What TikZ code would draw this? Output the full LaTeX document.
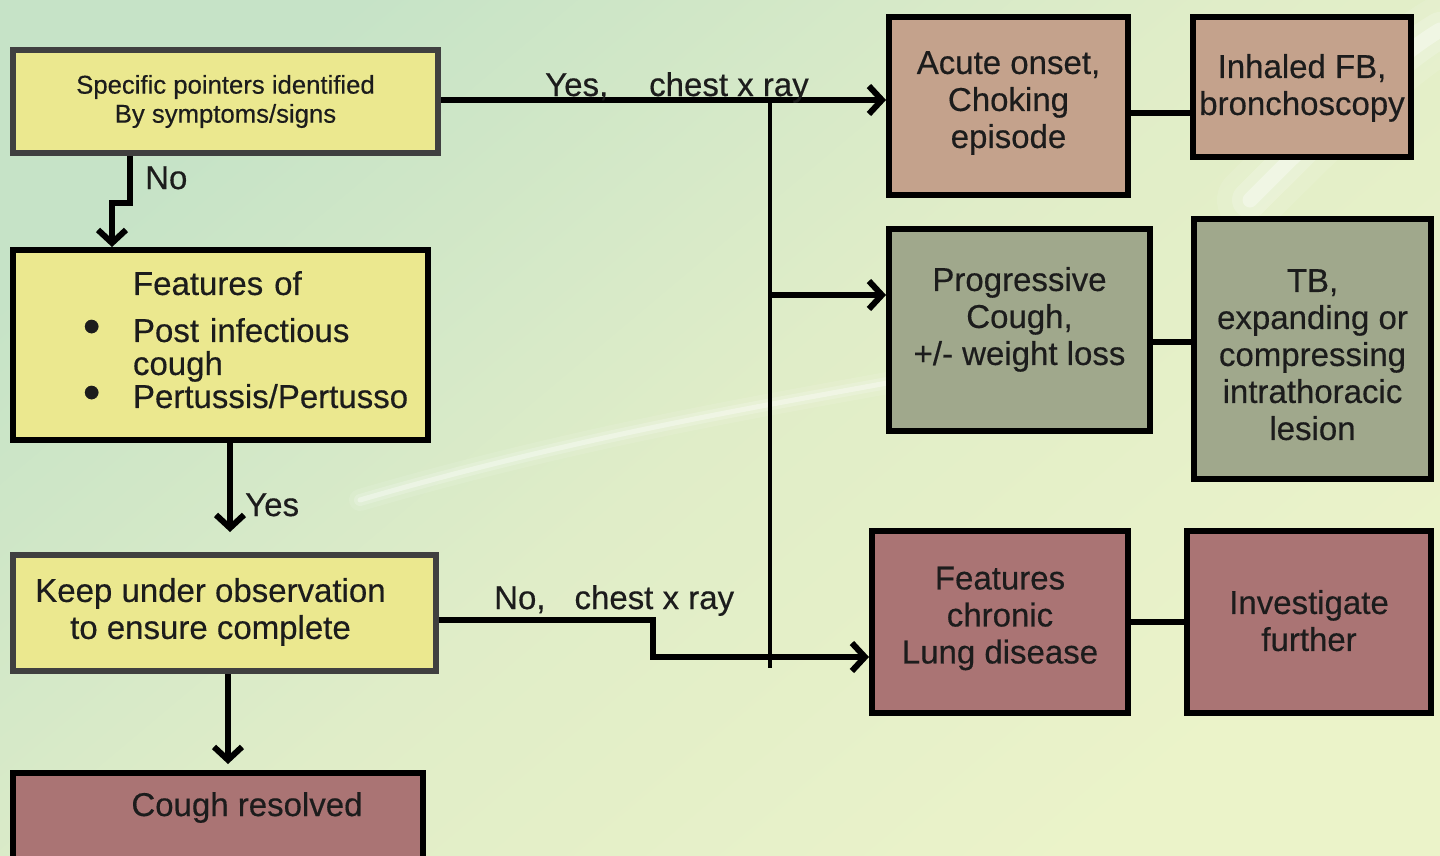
\documentclass[tikz,border=0pt]{standalone}
\usepackage{fontspec}
\usepackage{graphicx}
\setmainfont{Liberation Sans}[FakeBold=0.4]
\usetikzlibrary{arrows.meta,calc}
\definecolor{bgUL}{HTML}{C6E3C7}
\definecolor{bgMid}{HTML}{E0EDC8}
\definecolor{bgLR}{HTML}{EBF3C9}
\definecolor{yel}{HTML}{EBE88F}
\definecolor{tan}{HTML}{C4A28C}
\definecolor{sage}{HTML}{A0A88C}
\definecolor{mauve}{HTML}{AA7474}
\definecolor{greyb}{HTML}{404040}
\definecolor{txt}{HTML}{1C1C1C}
\newcommand{\mlines}[1]{\begin{tabular}{@{}c@{}}#1\end{tabular}}
\newcommand{\rlines}[2]{\raisebox{#1}[0pt][0pt]{\mlines{#2}}}
\newcommand{\bigbul}{\makebox[50pt][l]{\raisebox{-1pt}{\scalebox{1.5}{\textbullet}}}}
\begin{document}
\begin{tikzpicture}[x=1pt,y=-1pt,
  box/.style={rectangle, draw=black, line width=6pt, inner sep=0pt, align=center,
    text=txt, font=\fontsize{33}{37}\selectfont},
  lab/.style={inner sep=0pt, text=txt, font=\fontsize{33}{37}\selectfont},
  conn/.style={line width=5.5pt, draw=black},
  arr/.style={line width=6pt, draw=black, -{Straight Barb[length=13pt,width=28pt]}},
  trunk/.style={line width=4pt, draw=black}]
\useasboundingbox (0,0) rectangle (1440,855);
\clip (0,0) rectangle (1440,855);
% background
\shade[top color=bgUL, bottom color=bgLR, middle color=bgMid, shading angle=40] (0,0) rectangle (1440,855);
\foreach \o/\w in {0.10/22,0.18/12,0.35/5}{
  \draw[white, opacity=\o, line width=\w pt, line cap=round] (360,500) .. controls (600,430) and (800,400) .. (930,375);
  \draw[white, opacity=\o, line width=3*\w pt, line cap=round] (1250,200) .. controls (1330,120) and (1390,60) .. (1440,30);
}
% left column
\node[box, draw=greyb, line width=6.5pt, fill=yel, minimum width=425pt, minimum height=103pt,
  font=\fontsize{25.7}{29}\selectfont] (A) at (225.5,101.5) {Specific pointers identified\\By symptoms/signs};
\node[box, fill=yel, minimum width=415pt, minimum height=190pt, text width=395pt, align=left,
  font=\fontsize{33}{33}\selectfont] (B) at (220.5,345)
  {\hspace*{110pt}Features of\\[14pt]
   \hspace*{60pt}\bigbul Post infectious\\
   \hspace*{110pt}cough\\
   \hspace*{60pt}\bigbul Pertussis/Pertusso\\[-22pt]\mbox{}};
\node[box, draw=greyb, line width=6.5pt, fill=yel, minimum width=423pt, minimum height=116pt] (C) at (224.5,613)
  {\mlines{Keep under observation\\to ensure complete}\hspace*{28pt}};
\node[box, fill=mauve, minimum width=410pt, minimum height=94pt] (D) at (218,820)
  {\hspace*{58pt}\raisebox{4pt}[0pt][0pt]{Cough resolved}};
% right boxes
\node[box, fill=tan, minimum width=239pt, minimum height=178pt] (E) at (1008.5,106)
  {\rlines{-3.75pt}{Acute onset,\\Choking\\episode}};
\node[box, fill=tan, minimum width=218pt, minimum height=140pt] (F) at (1302,87)
  {\rlines{-8.25pt}{Inhaled FB,\\bronchoscopy}};
\node[box, fill=sage, minimum width=261pt, minimum height=202pt] (G) at (1019.5,330)
  {\rlines{3.25pt}{Progressive\\Cough,\\+/- weight loss}};
\node[box, fill=sage, minimum width=237pt, minimum height=260pt] (H) at (1312.5,349)
  {\rlines{-15.75pt}{TB,\\expanding or\\compressing\\intrathoracic\\lesion}};
\node[box, fill=mauve, minimum width=256pt, minimum height=182pt] (I) at (1000,622)
  {\rlines{-3.25pt}{Features\\chronic\\Lung disease}};
\node[box, fill=mauve, minimum width=244pt, minimum height=182pt] (J) at (1309,622)
  {\rlines{-9.25pt}{Investigate\\further}};
% coordinates
\coordinate (n1) at (130,203);
\coordinate (n2) at (112,203);
\coordinate (yt) at (230,532);
\coordinate (tT) at (770,100);
\coordinate (tG) at (770,295);
\coordinate (tB) at (770,668);
\coordinate (s1) at (653,620);
\coordinate (s2) at (653,657);
% connectors
\draw[arr] (A.south -| n1) -- (n1) -- (n2) -- (n2 |- B.north);
\draw[arr] (B.south -| yt) -- (yt);
\draw[arr, shorten >=6pt] (C.south -| 228,0) -- (D.north -| 228,0);
\draw[arr] (A.east |- tT) -- (tT -| E.west);
\draw[trunk] (tT) -- (tB);
\draw[arr] (tG) -- (tG -| G.west);
\draw[arr] (C.east |- s1) -- (s1) -- (s2) -- (s2 -| I.west);
\draw[conn] (E.east |- 0,113) -- (F.west |- 0,113);
\draw[conn] (G.east |- 0,342) -- (H.west |- 0,342);
\draw[conn] (I.east |- 0,622) -- (J.west |- 0,622);
% labels
\node[lab, anchor=base west] (lno1) at (145,189) {No};
\node[lab, anchor=base west] (lyes1) at (245,516) {Yes};
\node[lab, anchor=base west] (lyes2) at (545,96) {Yes,\hspace*{41pt}chest x ray};
\node[lab, anchor=base west] (lno2) at (494,609) {No,\hspace*{29pt}chest x ray};
\end{tikzpicture}
\end{document}
